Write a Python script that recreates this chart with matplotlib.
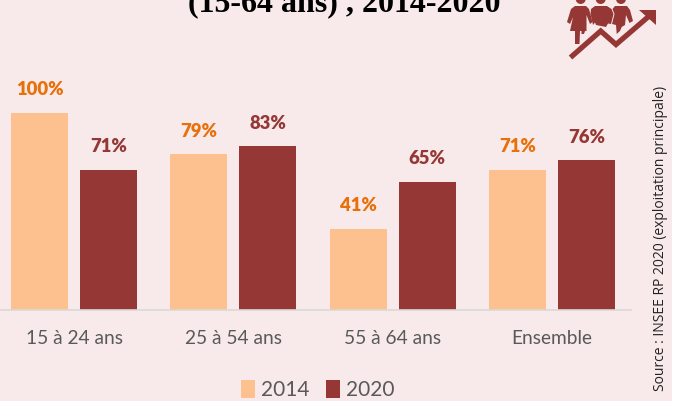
import matplotlib
matplotlib.use("Agg")
import matplotlib.pyplot as plt
from matplotlib.patches import Polygon, Ellipse, Rectangle

categories = ["15 à 24 ans", "25 à 54 ans", "55 à 64 ans", "Ensemble"]
years = ["2014", "2020"]
values_2014 = [100, 79, 41, 71]
values_2020 = [71, 83, 65, 76]
labels_2014 = ["100%", "79%", "41%", "71%"]
labels_2020 = ["71%", "83%", "65%", "76%"]

BG = "#F8EAEA"
C14 = "#FCC18E"
C20 = "#953735"
W, H = 675, 401
plt.rcParams["font.family"] = ["Lato", "DejaVu Sans"]

fig = plt.figure(figsize=(W / 100, H / 100), dpi=100, facecolor=BG)
fig.add_artist(Rectangle((672 / W, 0), 3 / W, 1, fc="white", ec="none", transform=fig.transFigure))
base_y = 309.5
top_y = 113.0
ax = fig.add_axes([0, 1 - base_y / H, 631 / W, (base_y - 60) / H])
ax.set_facecolor("none")
step = 159.3
ax.set_xlim(-74 / step, (631 - 74) / step)
ax.set_ylim(0, (base_y - 60) / (base_y - top_y) * 100)
w = 57 / step
off = 34.5 / step
x = list(range(len(categories)))
b1 = ax.bar([i - off for i in x], values_2014, w, color=C14, label=years[0])
b2 = ax.bar([i + off for i in x], values_2020, w, color=C20, label=years[1])
for bars, labs, col in ((b1, labels_2014, "#E8700A"), (b2, labels_2020, C20)):
    for r, t in zip(bars, labs):
        ax.annotate(t, (r.get_x() + r.get_width() / 2, r.get_height()), xytext=(0, 14.5), textcoords="offset pixels",
                    ha="center", va="bottom", color=col, fontsize=13.3, fontweight="heavy")
for s in ["top", "left", "right"]:
    ax.spines[s].set_visible(False)
ax.spines["bottom"].set_color("#D9D9D9")
ax.spines["bottom"].set_linewidth(1.2)
ax.set_yticks([])
ax.set_xticks(x, categories)
ax.tick_params(axis="x", length=0, pad=15, labelsize=13.8, labelcolor="#595959")

leg = fig.legend(loc="center", bbox_to_anchor=(317.5 / W, 1 - 390 / H), ncol=2, frameon=False, fontsize=15,
                 labelcolor="#595959", handlelength=0.67, handleheight=0.95, handletextpad=0.29, columnspacing=0.8,
                 borderpad=0)

fig.text(344 / W, 1 - 11 / H, "(15-64 ans) , 2014-2020", family="Liberation Serif", fontweight="bold",
         fontsize=23, ha="center", va="baseline", color="black")
fig.text(660 / W, 1 - 238 / H, "Source : INSEE RP 2020 (exploitation principale)", rotation=90,
         family="Open Sans", fontsize=10.0, ha="center", va="center", color="#222222")

# Decorative pictogram, in pixel coordinates
def P(pts):
    return [(a / W, 1 - b / H) for a, b in pts]
def poly(pts):
    fig.add_artist(Polygon(P(pts), closed=True, fc=C20, ec="none", transform=fig.transFigure))

for cx in (580.7, 600.7, 621):
    fig.add_artist(Ellipse((cx / W, 1 + 1 / H), 10 / W, 10 / H, fc=C20, ec="none", transform=fig.transFigure))
# left figure (dress)
poly([(575, 6), (586, 6), (589, 9), (592.5, 22), (590, 24), (586.5, 15), (586.5, 31), (585, 31), (584, 34), (581.5, 34),
      (581.5, 31), (580, 31), (579.5, 44), (575, 44), (575, 31), (570, 31), (573, 17), (570, 24), (567, 22), (571, 9)])
# middle figure
poly([(595, 6), (607, 6), (611.5, 9), (613.5, 14), (611, 24), (608, 23.5), (606, 27), (596, 25), (595, 22.5), (593, 25),
      (590.5, 14), (591, 9)])
# right figure
poly([(615, 6), (627, 6), (630, 10), (633, 21), (629.5, 23), (626, 15), (625, 25), (621.7, 27), (620, 31), (616.7, 34),
      (616, 25), (612, 24), (614.5, 14), (612.5, 9)])
# arrow
fig.add_artist(plt.Line2D(*zip(*P([(570.5, 57.5), (600.7, 31), (616, 44.5), (648, 17)])), color=C20, lw=3.8,
                          solid_joinstyle="miter", solid_capstyle="butt", transform=fig.transFigure))
poly([(639.3, 10), (655.5, 10), (655.5, 24.5)])

fig.savefig("out.png", dpi=100, facecolor=BG)
